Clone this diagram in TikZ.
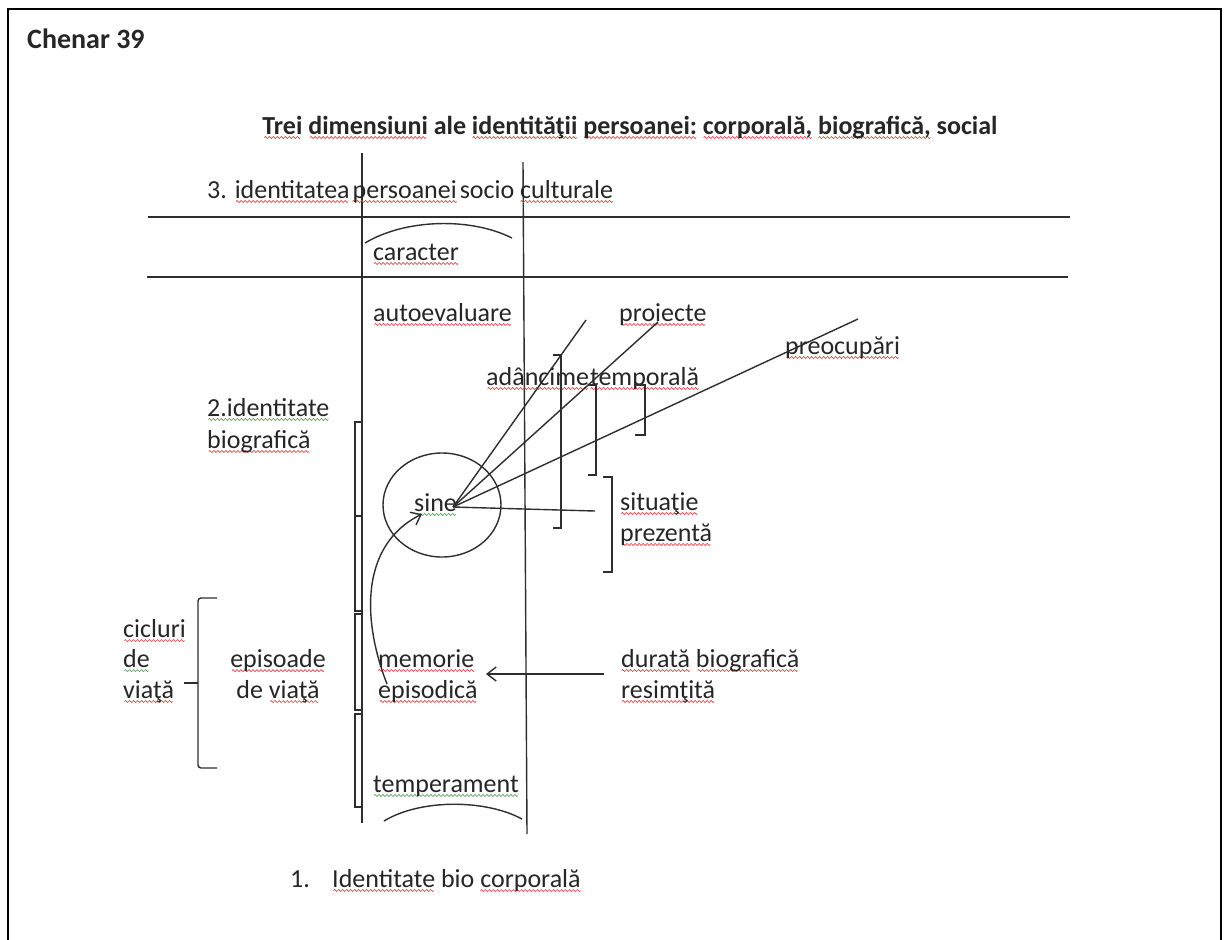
\documentclass[tikz,border=0pt]{standalone}
\usepackage{fontspec}
\setmainfont{Carlito}
\usetikzlibrary{arrows.meta,shapes.geometric}

\definecolor{ink}{HTML}{262626}
\definecolor{linec}{HTML}{2E2E2E}
\definecolor{spred}{RGB}{225,70,70}
\definecolor{spgreen}{RGB}{90,170,90}

% small wave tiles used for the spell-check style underlines
\newsavebox\wavered
\newsavebox\wavegreen
\newcommand\makewave[2]{%
  \sbox#1{\begin{pgfpicture}%
    \pgfsetlinewidth{0.7pt}\pgfsetstrokecolor{#2}%
    \pgfpathmoveto{\pgfpointorigin}%
    \pgfpathsine{\pgfpoint{1pt}{1pt}}\pgfpathcosine{\pgfpoint{1pt}{-1pt}}%
    \pgfpathsine{\pgfpoint{1pt}{-1pt}}\pgfpathcosine{\pgfpoint{1pt}{1pt}}%
    \pgfusepath{stroke}%
    \pgfresetboundingbox
    \pgfpathrectangle{\pgfpoint{0pt}{-1pt}}{\pgfpoint{4pt}{2pt}}%
    \pgfusepath{use as bounding box}%
  \end{pgfpicture}}}
\newcommand\wavedword[2]{\begingroup\setbox0\hbox{#2}%
  \rlap{\lower4.5pt\hbox to\wd0{\cleaders\copy#1\hfill}}\box0\endgroup}
\newcommand\spr[1]{\wavedword\wavered{#1}}
\newcommand\spg[1]{\wavedword\wavegreen{#1}}

\begin{document}
\makewave\wavered{spred}%
\makewave\wavegreen{spgreen}%
\begin{tikzpicture}[x=1pt,y=-1pt,
  txt/.style={font=\fontsize{26}{31}\selectfont, text=ink, inner sep=0pt, anchor=base west},
  ln/.style={draw=linec, line width=1.4pt},
  brk/.style={draw=linec, line width=1.4pt},
  barb/.style={ln, -{Straight Barb[length=9pt,width=14pt,line width=1.4pt]}}]
\useasboundingbox (0,0) rectangle (1224,940);

% outer frame
\draw[line width=2pt, black] (8,940) -- (8,9) -- (1221,9) -- (1221,940);

% headings
\node[txt, font=\fontsize{28}{34}\selectfont\bfseries] (chenar) at (27,48) {Chenar 39};
\node[txt, font=\fontsize{26}{31}\selectfont\bfseries, anchor=base] (title) at (630,134)
  {\spr{Trei} \spr{dimensiuni} ale \spr{identităţii} \spr{persoanei:} \spr{corporală,} \spr{biografică,} social};

% frame of the three levels
\coordinate (v1t) at (362,153); \coordinate (v1b) at (362,823);
\coordinate (v2t) at (523,162); \coordinate (v2b) at (527,834);
\coordinate (h1l) at (148,217); \coordinate (h1r) at (1070,217);
\coordinate (h2l) at (147,277); \coordinate (h2r) at (1068,277);
\draw[ln] (v1t) -- (v1b);
\draw[ln] (v2t) -- (v2b);
\draw[ln] (h1l) -- (h1r);
\draw[ln] (h2l) -- (h2r);

\node[txt] (soc) at (207,198) {3. \spr{identitatea}\hspace{3pt}\spr{persoanei}\hspace{3pt}socio \spr{culturale}};

% character arc and label
\coordinate (ca1) at (365,243); \coordinate (ca2) at (512,238);
\draw[ln] (ca1) .. controls (405,219) and (470,217) .. (ca2);
\node[txt] (caracter) at (373,260) {\spr{caracter}};

\node[txt] (autoev) at (373,321) {\spr{autoevaluare}};
\node[txt] (proiecte) at (619,321) {\spr{proiecte}};
\node[txt] (preoc) at (785,354) {\spr{preocupări}};
\node[txt] (adanc) at (486,385) {\spr{adâncime}\hspace{1pt}\spr{temporală}};

\node[txt] (bio1) at (207,416) {\spg{2.identitate}};
\node[txt] (bio2) at (207,448) {\spr{biografică}};

% the self and its rays
\node[draw=linec, line width=1.4pt, ellipse, minimum width=118pt, minimum height=104pt, inner sep=0pt] (circ) at (442,505) {};
\node[txt] (sine) at (414,511) {\spg{sine}};
\coordinate (orig) at (453,507);
\coordinate (r1) at (586,320);
\coordinate (r2) at (658,322);
\coordinate (r3) at (858,319);
\coordinate (r4) at (595,511);
\draw[ln] (orig) -- (r1);
\draw[ln] (orig) -- (r2);
\draw[ln] (orig) -- (r3);
\draw[ln] (orig) -- (r4);

% right brackets
\draw[brk] (553,355) -- (561,355) -- (561,528) -- (553,528);
\draw[brk] (588,385) -- (596,385) -- (596,475) -- (588,475);
\draw[brk] (635,385) -- (645,385) -- (645,435) -- (635,435);
\draw[brk] (603,477) -- (612,477) -- (612,572) -- (603,572);

\node[txt] (sit1) at (620,510) {\spr{situaţie}};
\node[txt] (sit2) at (620,541) {\spr{prezentă}};

% narrow boxes along the left line
\draw[brk] (355,422) rectangle (362,611);
\draw[brk] (355,516) -- (362,516);
\draw[brk] (355,614) rectangle (362,710);
\draw[brk] (355,714) rectangle (362,807);

% life cycles
\node[txt] (cic1) at (123,637) {\spr{cicluri}};
\node[txt] (cic2) at (123,667) {\spg{de}};
\node[txt] (cic3) at (123,698) {\spr{viaţă}};
\draw[brk, rounded corners=3pt] (217,598) -- (198,598) -- (198,768) -- (217,768);
\coordinate (brtip) at (184,683);
\draw[brk] (brtip) -- (198,683);

\node[txt, anchor=base] (ep1) at (278,667) {\spr{episoade}};
\node[txt, anchor=base] (ep2) at (278,698) {de \spr{viaţă}};

\node[txt] (mem1) at (378,667) {\spr{memorie}};
\node[txt] (mem2) at (378,698) {\spr{episodică}};

\node[txt] (dur1) at (621,667) {\spr{durată} \spr{biografică}};
\node[txt] (dur2) at (621,698) {\spr{resimţită}};

% arrows
\coordinate (memstart) at (387,684);
\coordinate (sinetip) at (422,514);
\draw[barb] (memstart) .. controls (362,620) and (360,545) .. (sinetip);
\coordinate (durstart) at (604,674);
\coordinate (memtip) at (486,674);
\draw[barb] (durstart) -- (memtip);

\node[txt] (temper) at (373,792) {\spg{temperament}};
\coordinate (ta1) at (384,821); \coordinate (ta2) at (522,819);
\draw[ln] (ta1) .. controls (420,799) and (485,799) .. (ta2);

\node[txt] (one) at (290,887) {1.};
\node[txt] (bodyid) at (332,887) {\spr{Identitate} bio \spr{corporală}};
\end{tikzpicture}
\end{document}
